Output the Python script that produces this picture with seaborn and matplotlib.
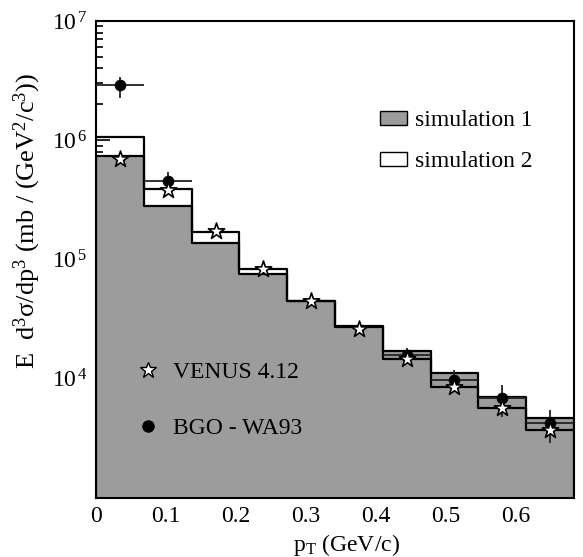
import numpy as np
import pandas as pd
import matplotlib
matplotlib.use('Agg')
import matplotlib.pyplot as plt
from matplotlib.patches import Patch
from matplotlib.lines import Line2D
from matplotlib.ticker import MultipleLocator, LogLocator, NullFormatter
import seaborn as sns

# =====================================================
# Data
# =====================================================
pt_edges = [0.0, 0.068, 0.137, 0.205, 0.273, 0.342, 0.410, 0.478, 0.546, 0.615, 0.683]
sim1 = [7.38e5, 2.81e5, 1.38e5, 7.56e4, 4.45e4, 2.70e4, 1.71e4, 1.12e4, 7.03e3, 4.69e3]
sim2 = [1.06e6, 3.90e5, 1.70e5, 8.32e4, 4.49e4, 2.77e4, 1.47e4, 8.53e3, 5.69e3, 3.72e3]
venus = [6.97e5, 3.83e5, 1.73e5, 8.32e4, 4.49e4, 2.61e4, 1.47e4, 8.53e3, 5.69e3, 3.72e3]

bgo_bin = [0, 1, 6, 7, 8, 9]
bgo = [2.90e6, 4.55e5, 1.58e4, 9.77e3, 6.90e3, 4.26e3]
bgo_lo = [2.26e6, 3.85e5, 1.35e4, 8.05e3, 4.78e3, 2.89e3]
bgo_hi = [3.39e6, 5.42e5, 1.81e4, 1.18e4, 8.87e3, 5.47e3]

# =====================================================
# Style
# =====================================================
sns.set_style('ticks')
plt.rcParams['font.family'] = ['Liberation Serif', 'DejaVu Serif']
plt.rcParams['mathtext.fontset'] = 'custom'
plt.rcParams['mathtext.rm'] = 'Liberation Serif'
plt.rcParams['mathtext.it'] = 'Liberation Serif:italic'
for key in ['text.color', 'axes.labelcolor', 'xtick.color', 'ytick.color']:
    plt.rcParams[key] = 'black'

edges = np.array(pt_edges)
centers = (edges[:-1] + edges[1:]) / 2
half = (edges[1:] - edges[:-1]) / 2
df = pd.DataFrame({'pt': centers, 'sim1': sim1, 'sim2': sim2, 'venus': venus})
bg = pd.DataFrame({'pt': centers[bgo_bin], 'val': bgo,
                   'lo': bgo_lo, 'hi': bgo_hi, 'xe': half[bgo_bin]})

fig = plt.figure(figsize=(5.83, 5.57), dpi=100)
ax = fig.add_axes([0.1647, 0.1059, 0.8199, 0.8564])
ax.set_yscale('log')

sns.histplot(data=df, x='pt', weights='sim1', bins=pt_edges, element='step',
             fill=True, color='#9c9c9c', alpha=1, edgecolor='black',
             linewidth=1.6, ax=ax)
sns.histplot(data=df, x='pt', weights='sim2', bins=pt_edges, element='step',
             fill=False, color='black', linewidth=1.6, ax=ax)

ax.errorbar(bg['pt'], bg['val'], xerr=bg['xe'],
            yerr=[bg['val'] - bg['lo'], bg['hi'] - bg['val']],
            fmt='none', ecolor='#222222', elinewidth=1.3, capsize=0, zorder=4)
sns.scatterplot(data=bg, x='pt', y='val', marker='o', s=60, color='black',
                edgecolor='black', zorder=5, ax=ax)
sns.scatterplot(data=df, x='pt', y='venus', marker='*', s=150, color='white',
                edgecolor='black', linewidth=1.2, zorder=6, ax=ax)

# =====================================================
# Axes
# =====================================================
ax.set_xlim(0, 0.683)
ax.set_ylim(1e3, 1e7)
ax.set_xticks([0, 0.1, 0.2, 0.3, 0.4, 0.5, 0.6])
ax.set_xticklabels(['0', '0.1', '0.2', '0.3', '0.4', '0.5', '0.6'])
ax.xaxis.set_minor_locator(MultipleLocator(0.02))
ax.set_yticks([1e4, 1e5, 1e6, 1e7])
ax.set_yticklabels([r'$10^{\,4}$', r'$10^{\,5}$', r'$10^{\,6}$', r'$10^{\,7}$'])
ax.yaxis.set_minor_locator(LogLocator(base=10, subs=np.arange(2, 10)))
ax.yaxis.set_minor_formatter(NullFormatter())
ax.tick_params(which='both', direction='in', top=False, right=False,
               labelsize=17, width=1.2)
ax.tick_params(which='major', length=10, pad=6)
ax.tick_params(which='minor', length=5)
for s in ax.spines.values():
    s.set_visible(True)
    s.set_linewidth(1.5)
    s.set_color('black')

ax.set_xlabel(r'p$_{\mathrm{T}}$ (GeV/c)', fontsize=17)
ax.xaxis.set_label_coords(0.525, -0.072)
ax.set_ylabel(r'E  d$^{3}$σ/dp$^{3}$ (mb / (GeV$^{2}$/c$^{3}$))', fontsize=19)
ax.yaxis.set_label_coords(-0.11, 0.58)

sim_handles = [Patch(facecolor='#9c9c9c', edgecolor='black', linewidth=1.0),
               Patch(facecolor='white', edgecolor='black', linewidth=1.0)]
leg1 = ax.legend(sim_handles, ['simulation 1', 'simulation 2'],
                 loc='center left', bbox_to_anchor=(0.569, 0.748),
                 frameon=False, fontsize=17, handlelength=1.15, handleheight=0.5,
                 handletextpad=0.35, labelspacing=0.85, borderpad=0)
ax.add_artist(leg1)

pt_handles = [Line2D([], [], marker='*', linestyle='none', markersize=12,
                     markerfacecolor='white', markeredgecolor='black'),
              Line2D([], [], marker='o', linestyle='none', markersize=8,
                     markerfacecolor='black', markeredgecolor='black')]
ax.legend(pt_handles, ['VENUS 4.12', 'BGO - WA93'],
          loc='center left', bbox_to_anchor=(0.06, 0.205),
          frameon=False, fontsize=17, handlelength=1.0,
          handletextpad=0.55, labelspacing=1.45, borderpad=0)

plt.savefig('out.png', dpi=100)
